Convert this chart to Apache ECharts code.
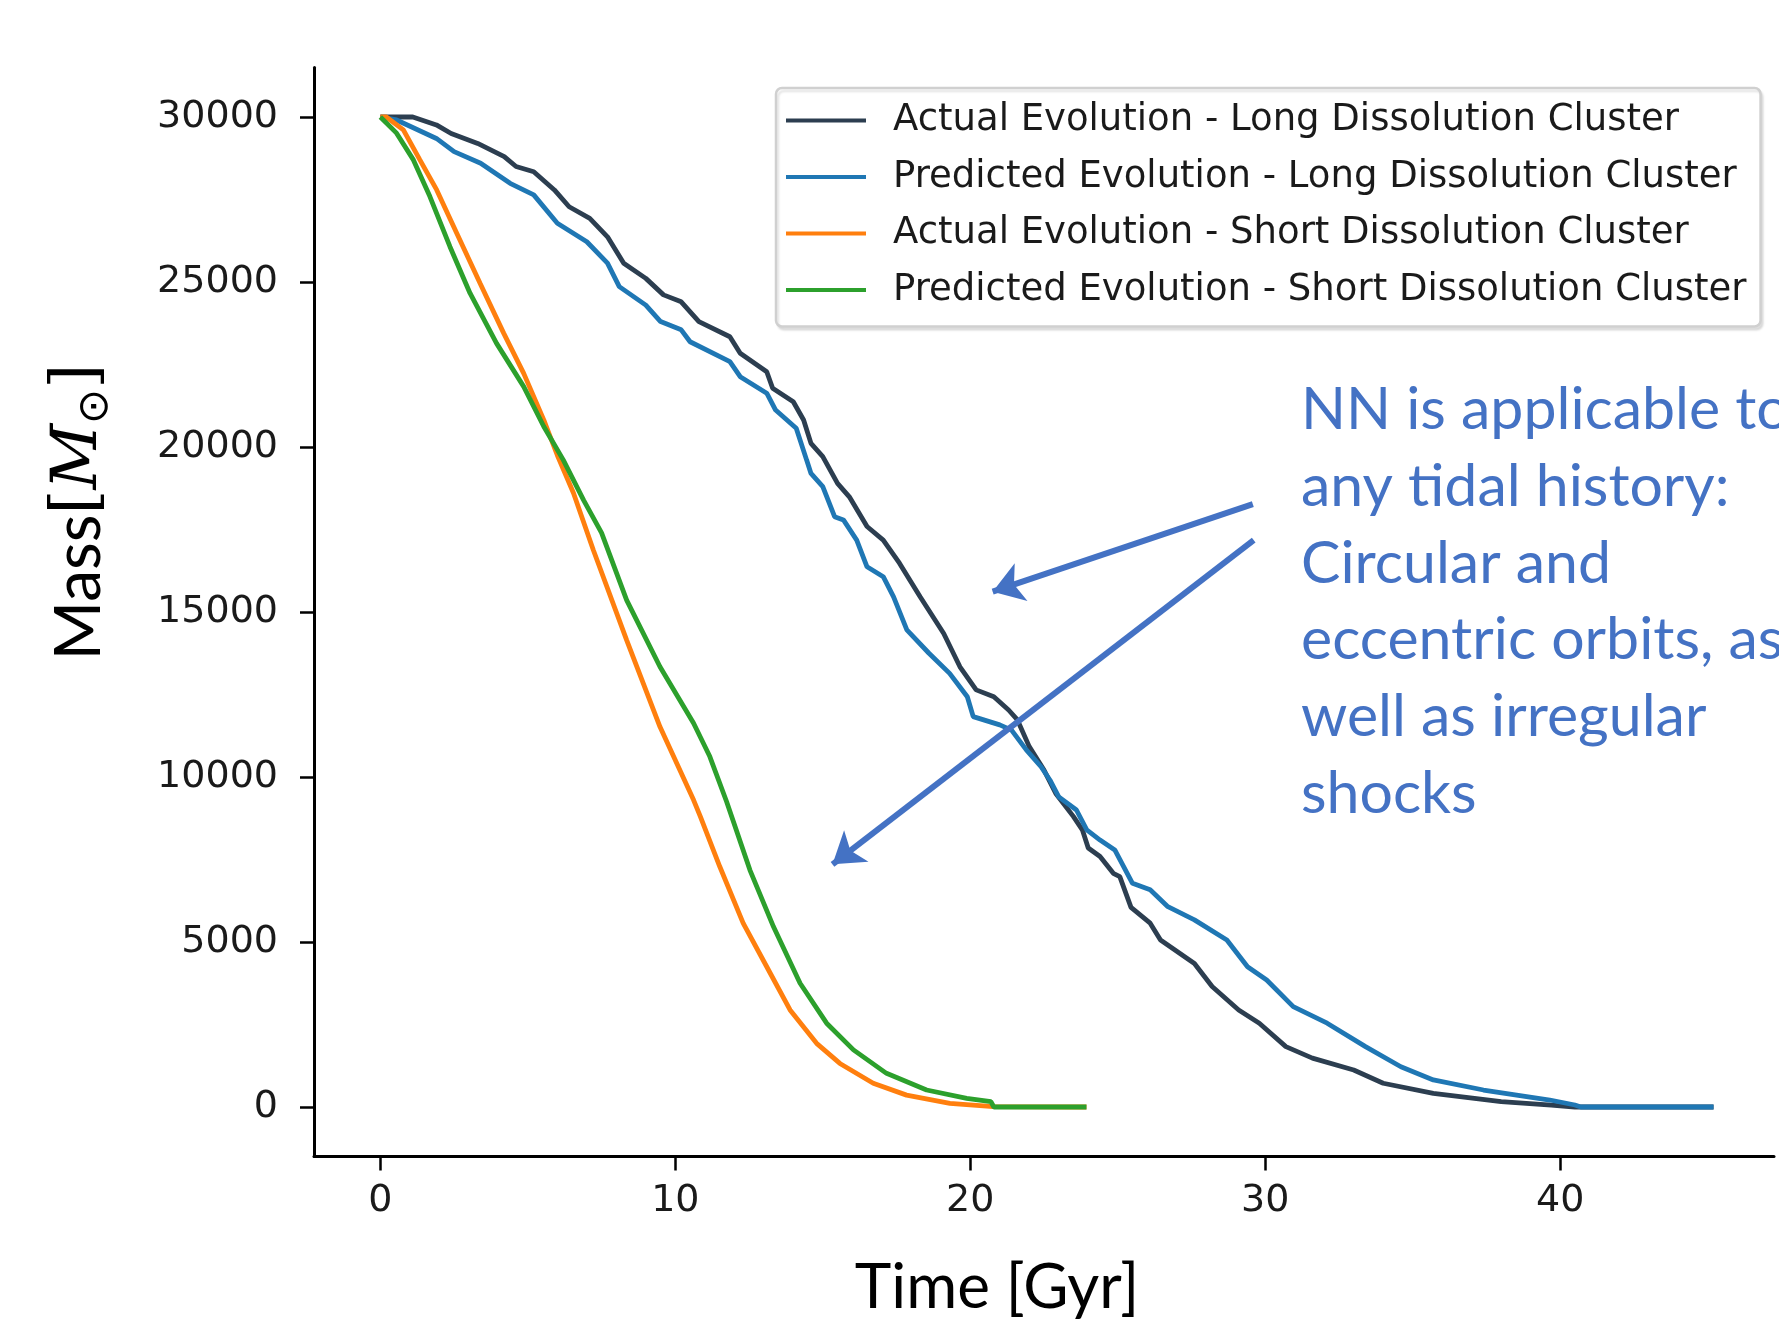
<!DOCTYPE html>
<html>
<head>
<meta charset="utf-8">
<script src="https://cdn.jsdelivr.net/npm/echarts@6/dist/echarts.min.js"></script>
<style>
html,body{margin:0;padding:0;background:#ffffff;}
#chart{width:1779px;height:1323px;}
</style>
</head>
<body>
<div id="chart"></div>
<script>
// ---------- data ----------
const seriesNames = [
  'Actual Evolution - Long Dissolution Cluster',
  'Predicted Evolution - Long Dissolution Cluster',
  'Actual Evolution - Short Dissolution Cluster',
  'Predicted Evolution - Short Dissolution Cluster'
];
const seriesColors = ['#2c3e50', '#1f77b4', '#ff7f0e', '#2ca02c'];

const xTicks = [0, 10, 20, 30, 40];
const yTicks = [0, 5000, 10000, 15000, 20000, 25000, 30000];

// Long dissolution cluster - actual
const longActualT = [0, 1.1, 1.9, 2.4, 3.3, 4.2, 4.6, 5.2, 5.9, 6.4, 7.1, 7.7, 8.25, 9.0, 9.6, 10.2, 10.8, 11.85, 12.2, 13.1, 13.3, 14.0, 14.35, 14.6, 15.0, 15.5, 15.9, 16.5, 17.05, 17.6, 18.3, 19.1, 19.65, 20.2, 20.8, 21.3, 21.6, 22.0, 22.5, 22.9, 23.5, 23.8, 24.0, 24.4, 24.85, 25.07, 25.45, 26.1, 26.45, 27.6, 28.2, 29.1, 29.8, 30.7, 31.6, 33.0, 34.0, 35.7, 38.0, 39.7, 40.5, 45.2];
const longActualM = [30000, 30000, 29760, 29500, 29200, 28800, 28500, 28340, 27790, 27280, 26930, 26370, 25570, 25110, 24610, 24400, 23800, 23340, 22840, 22280, 21780, 21370, 20820, 20110, 19710, 18900, 18490, 17590, 17180, 16480, 15460, 14350, 13340, 12640, 12430, 12030, 11730, 10920, 10210, 9500, 8800, 8400, 7850, 7590, 7080, 6980, 6050, 5570, 5060, 4350, 3650, 2940, 2540, 1830, 1480, 1120, 720, 415, 160, 60, 0, 0];

// Long dissolution cluster - predicted
const longPredT = [0, 0.55, 1.9, 2.5, 3.4, 4.4, 5.2, 6.0, 7.0, 7.7, 8.1, 9.0, 9.5, 10.2, 10.5, 11.85, 12.2, 13.1, 13.4, 14.1, 14.45, 14.6, 15.0, 15.4, 15.7, 16.15, 16.5, 17.05, 17.4, 17.85, 18.6, 19.3, 19.9, 20.1, 21.0, 21.4, 21.9, 22.4, 22.7, 23.0, 23.6, 23.95, 24.4, 24.9, 25.5, 26.1, 26.7, 27.6, 28.7, 29.4, 30.05, 30.95, 32.1, 33.4, 34.6, 35.7, 37.4, 39.65, 40.5, 40.7, 45.2];
const longPredM = [30000, 29910, 29350, 28950, 28600, 27990, 27640, 26780, 26220, 25570, 24860, 24300, 23800, 23550, 23190, 22590, 22130, 21630, 21120, 20570, 19610, 19200, 18800, 17890, 17790, 17180, 16370, 16070, 15460, 14460, 13750, 13140, 12430, 11830, 11580, 11420, 10820, 10310, 9910, 9400, 9000, 8400, 8090, 7790, 6780, 6580, 6070, 5670, 5060, 4250, 3850, 3040, 2540, 1830, 1220, 820, 515, 212, 60, 0, 0];

// Short dissolution cluster - actual
const shortActualT = [0, 0.2, 0.78, 1.34, 1.91, 2.59, 3.38, 4.18, 4.86, 5.54, 6.0, 6.55, 7.22, 8.35, 9.48, 10.62, 10.85, 11.51, 12.3, 13.1, 13.89, 14.79, 15.58, 16.71, 17.84, 19.31, 20.78, 23.94];
const shortActualM = [30000, 30000, 29610, 28700, 27790, 26480, 24960, 23450, 22230, 20820, 19750, 18600, 16880, 14150, 11520, 9300, 8800, 7280, 5570, 4250, 2940, 1930, 1320, 720, 360, 110, 10, 0];

// Short dissolution cluster - predicted
const shortPredT = [0, 0.55, 1.12, 1.68, 2.36, 3.04, 3.94, 4.86, 5.54, 6.2, 6.89, 7.5, 8.35, 9.48, 10.62, 11.17, 11.74, 12.53, 13.33, 14.23, 15.13, 16.04, 17.16, 18.52, 19.88, 20.7, 20.8, 23.94];
const shortPredM = [30000, 29510, 28700, 27590, 26070, 24660, 23140, 21830, 20620, 19610, 18390, 17400, 15360, 13340, 11630, 10620, 9250, 7180, 5460, 3750, 2540, 1730, 1020, 515, 264, 160, 0, 0];

// annotation arrows (data coordinates: start -> tip)
const arrow1 = [[29.58, 18270], [20.76, 15615]];
const arrow2 = [[29.61, 17180], [15.33, 7355]];

const annotationLines = [
  'NN is applicable to',
  'any tidal history:',
  'Circular and',
  'eccentric orbits, as',
  'well as irregular',
  'shocks'
];

// ---------- build ----------
function pairs(t, m) { return t.map((v, i) => [v, m[i]]); }
const allT = [longActualT, longPredT, shortActualT, shortPredT];
const allM = [longActualM, longPredM, shortActualM, shortPredM];

const series = seriesNames.map((name, i) => ({
  name: name,
  type: 'line',
  data: pairs(allT[i], allM[i]),
  symbol: 'none',
  showSymbol: false,
  smooth: false,
  z: 2 + i,
  lineStyle: { color: seriesColors[i], width: 4.8 },
  itemStyle: { color: seriesColors[i] },
  emphasis: { disabled: true },
  animation: false
}));

series[3].markLine = {
  silent: true,
  animation: false,
  symbol: ['none', 'arrow'],
  symbolSize: [30, 30],
  label: { show: false },
  emphasis: { disabled: true },
  lineStyle: { color: '#4472C4', width: 6, type: 'solid' },
  itemStyle: { color: '#4472C4' },
  data: [
    [{ coord: arrow1[0] }, { coord: arrow1[1] }],
    [{ coord: arrow2[0] }, { coord: arrow2[1] }]
  ]
};

const chart = echarts.init(document.getElementById('chart'), null, { renderer: 'canvas' });

const option = {
  backgroundColor: '#ffffff',
  animation: false,
  grid: { left: 314, top: 67.5, width: 1460, height: 1089, containLabel: false },
  xAxis: {
    type: 'value',
    min: -2.25,
    max: 47.25,
    splitLine: { show: false },
    axisLine: { show: true, onZero: false, lineStyle: { color: '#000000', width: 3 } },
    axisTick: { show: true, length: 14, lineStyle: { color: '#000000', width: 2.5 }, customValues: xTicks },
    axisLabel: {
      show: true, margin: 26, color: '#1a1a1a', fontFamily: 'DejaVu Sans', fontSize: 38,
      customValues: xTicks, showMinLabel: true, showMaxLabel: true,
      formatter: function (v) { return String(v); }
    }
  },
  yAxis: {
    type: 'value',
    min: -1500,
    max: 31500,
    splitLine: { show: false },
    axisLine: { show: true, onZero: false, lineStyle: { color: '#000000', width: 3 } },
    axisTick: { show: true, length: 14, lineStyle: { color: '#000000', width: 2.5 }, customValues: yTicks },
    axisLabel: {
      show: true, margin: 36, color: '#1a1a1a', fontFamily: 'DejaVu Sans', fontSize: 38,
      customValues: yTicks, showMinLabel: true, showMaxLabel: true,
      formatter: function (v) { return String(v); }
    }
  },
  legend: {
    show: true,
    data: seriesNames,
    orient: 'vertical',
    left: 776,
    top: 88,
    icon: 'rect',
    itemWidth: 80,
    itemHeight: 4,
    itemGap: 19.5,
    padding: [14, 14, 18, 10],
    backgroundColor: '#ffffff',
    borderColor: '#d0d0d0',
    borderWidth: 2.5,
    borderRadius: 6,
    shadowColor: 'rgba(0,0,0,0.10)',
    shadowBlur: 2,
    shadowOffsetX: 2,
    shadowOffsetY: 3,
    selectedMode: false,
    textStyle: {
      color: '#1a1a1a', fontFamily: 'DejaVu Sans', fontSize: 37, lineHeight: 37,
      padding: [0, 0, 0, 22]
    }
  },
  graphic: [
    {
      type: 'text',
      x: 79, y: 512,
      rotation: Math.PI / 2,
      silent: true,
      style: {
        text: '{a|Mass}{b|[}{c|M}{d|⊙}{b|]}',
        align: 'center',
        verticalAlign: 'middle',
        fill: '#000000',
        rich: {
          a: { fontFamily: 'Lato', fontSize: 64, lineHeight: 76, fill: '#000000' },
          b: { fontFamily: 'DejaVu Serif', fontSize: 64, lineHeight: 76, fill: '#000000' },
          c: { fontFamily: 'DejaVu Serif', fontStyle: 'italic', fontSize: 64, lineHeight: 76, fill: '#000000' },
          d: { fontFamily: 'DejaVu Sans', fontSize: 42, lineHeight: 42, verticalAlign: 'bottom', fill: '#000000' }
        }
      }
    },
    {
      type: 'text',
      x: 997, y: 1288,
      silent: true,
      style: {
        text: 'Time [Gyr]',
        align: 'center',
        verticalAlign: 'middle',
        fontFamily: 'Lato',
        fontSize: 62,
        fill: '#000000'
      }
    },
    {
      type: 'text',
      x: 1301, y: 372,
      silent: true,
      style: {
        text: annotationLines.join('\n'),
        align: 'left',
        verticalAlign: 'top',
        fontFamily: 'Lato',
        fontSize: 59,
        lineHeight: 76.7,
        fill: '#4472C4'
      }
    }
  ],
  series: series
};

chart.setOption(option);
</script>
</body>
</html>
